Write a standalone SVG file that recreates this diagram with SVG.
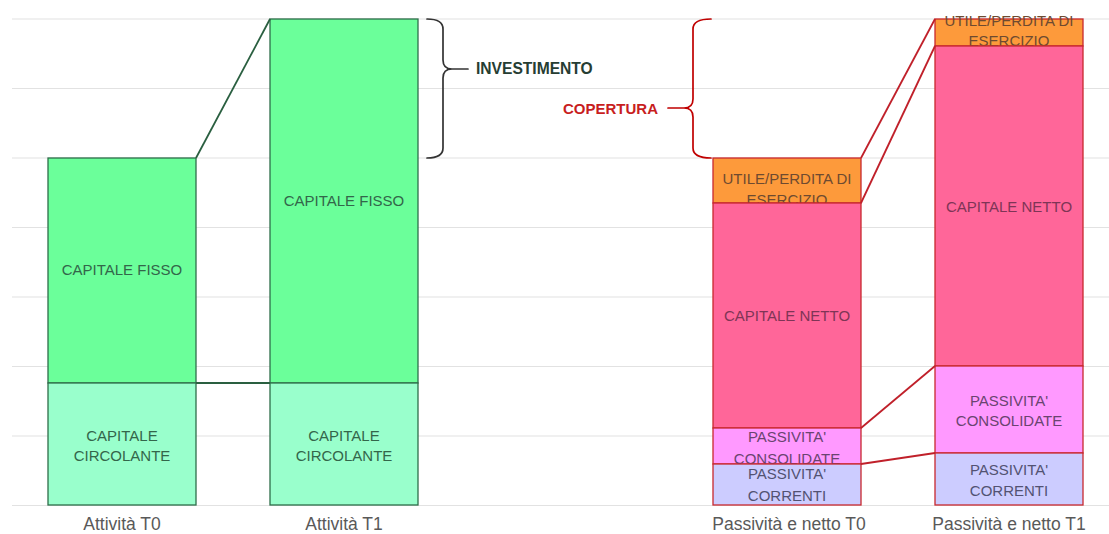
<svg xmlns="http://www.w3.org/2000/svg" width="1109" height="534" viewBox="0 0 1109 534">
<style>
.grid{stroke:#e2e2e2;stroke-width:1.2}
.g{stroke:#2f6e4a;stroke-width:1.3}
.r{stroke:#c8282f;stroke-width:1.3}
.cg{stroke:#2a5f40;stroke-width:1.8}
.cr{stroke:#c0202a;stroke-width:1.8}
.lbl{font-family:"Liberation Sans",Arial,sans-serif;font-size:15px;text-anchor:middle}
.ax{font-family:"Liberation Sans",Arial,sans-serif;font-size:17.5px;text-anchor:middle;fill:#595959}
.tg{fill:#33664a}
.to{fill:#6e4a30}
.tp{fill:#7e3556}
.tm{fill:#6a4470}
.tl{fill:#525272}
.brace{fill:none;stroke-width:1.7;stroke-linecap:round;stroke-linejoin:round}
</style>
<rect width="1109" height="534" fill="#ffffff"/>
<g id="grid">
<line class="grid" x1="12" y1="19" x2="1109" y2="19"/>
<line class="grid" x1="12" y1="88.5" x2="1109" y2="88.5"/>
<line class="grid" x1="12" y1="158" x2="1109" y2="158"/>
<line class="grid" x1="12" y1="227.5" x2="1109" y2="227.5"/>
<line class="grid" x1="12" y1="297" x2="1109" y2="297"/>
<line class="grid" x1="12" y1="366.5" x2="1109" y2="366.5"/>
<line class="grid" x1="12" y1="436" x2="1109" y2="436"/>
<line class="grid" x1="12" y1="505.5" x2="1109" y2="505.5"/>
</g>
<g id="att-t0">
<rect class="g" x="48" y="158" width="148" height="225" fill="#6bff9a"/>
<text class="lbl tg" x="122" y="275">CAPITALE FISSO</text>
<rect class="g" x="48" y="383" width="148" height="122" fill="#99ffcc"/>
<text class="lbl tg" x="122" y="441">CAPITALE</text>
<text class="lbl tg" x="122" y="461">CIRCOLANTE</text>
</g>
<g id="att-t1">
<rect class="g" x="270" y="19" width="148" height="364" fill="#6bff9a"/>
<text class="lbl tg" x="344" y="206">CAPITALE FISSO</text>
<rect class="g" x="270" y="383" width="148" height="122" fill="#99ffcc"/>
<text class="lbl tg" x="344" y="441">CAPITALE</text>
<text class="lbl tg" x="344" y="461">CIRCOLANTE</text>
</g>
<g id="pas-t0">
<rect class="r" x="713" y="158" width="148" height="45" fill="#fd9a3b"/>
<text class="lbl to" x="787" y="184">UTILE/PERDITA DI</text>
<text class="lbl to" x="787" y="205">ESERCIZIO</text>
<rect class="r" x="713" y="203" width="148" height="225" fill="#ff6699"/>
<text class="lbl tp" x="787" y="321">CAPITALE NETTO</text>
<rect class="r" x="713" y="428" width="148" height="36" fill="#ff99ff"/>
<text class="lbl tm" x="787" y="442">PASSIVITA'</text>
<text class="lbl tm" x="787" y="464">CONSOLIDATE</text>
<rect class="r" x="713" y="464" width="148" height="41" fill="#ccccff"/>
<text class="lbl tl" x="787" y="479">PASSIVITA'</text>
<text class="lbl tl" x="787" y="501">CORRENTI</text>
</g>
<g id="pas-t1">
<rect class="r" x="935" y="19" width="148" height="27" fill="#fd9a3b"/>
<text class="lbl to" x="1009" y="26">UTILE/PERDITA DI</text>
<text class="lbl to" x="1009" y="46">ESERCIZIO</text>
<rect class="r" x="935" y="46" width="148" height="320" fill="#ff6699"/>
<text class="lbl tp" x="1009" y="212">CAPITALE NETTO</text>
<rect class="r" x="935" y="366" width="148" height="87" fill="#ff99ff"/>
<text class="lbl tm" x="1009" y="406">PASSIVITA'</text>
<text class="lbl tm" x="1009" y="426">CONSOLIDATE</text>
<rect class="r" x="935" y="453" width="148" height="52" fill="#ccccff"/>
<text class="lbl tl" x="1009" y="475">PASSIVITA'</text>
<text class="lbl tl" x="1009" y="496">CORRENTI</text>
</g>
<g id="connectors" fill="none">
<line class="cg" x1="196" y1="158" x2="270" y2="19"/>
<line class="cg" x1="196" y1="383" x2="270" y2="383"/>
<line class="cr" x1="861" y1="158" x2="935" y2="19"/>
<line class="cr" x1="861" y1="203" x2="935" y2="46"/>
<line class="cr" x1="861" y1="428" x2="935" y2="366"/>
<line class="cr" x1="861" y1="464" x2="935" y2="453"/>
</g>
<g id="investimento">
<path class="brace" stroke="#333333" d="M427,19 Q443,19 443,29 L443,60 Q443,69 452,69 L468,69 M452,69 Q443,69 443,78 L443,148 Q443,158 427,158"/>
<text x="476" y="74" font-family="Liberation Sans,Arial,sans-serif" font-size="15.6" font-weight="bold" fill="#263d33">INVESTIMENTO</text>
</g>
<g id="copertura">
<path class="brace" stroke="#c00000" d="M711,19 Q693,19 693,29 L693,99 Q693,108 684,108 L668,108 M684,108 Q693,108 693,117 L693,148 Q693,158 711,158"/>
<text x="658" y="113.5" text-anchor="end" font-family="Liberation Sans,Arial,sans-serif" font-size="15" font-weight="bold" fill="#c81e1e">COPERTURA</text>
</g>
<g id="axis">
<text class="ax" x="122" y="530">Attività T0</text>
<text class="ax" x="344" y="530">Attività T1</text>
<text class="ax" x="789" y="530">Passività e netto T0</text>
<text class="ax" x="1009" y="530">Passività e netto T1</text>
</g>
</svg>
